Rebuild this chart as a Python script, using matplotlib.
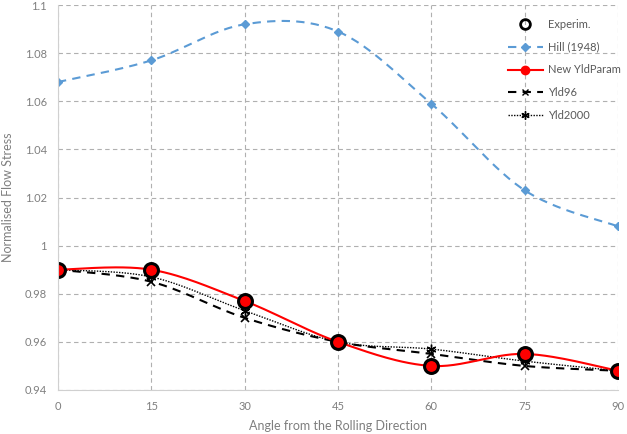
import matplotlib
matplotlib.use("Agg")
import matplotlib.pyplot as plt
import numpy as np

angles = [0, 15, 30, 45, 60, 75, 90]
experim = [0.990, 0.990, 0.977, 0.960, 0.950, 0.955, 0.948]
hill = [1.068, 1.077, 1.092, 1.089, 1.059, 1.023, 1.008]
new_yld = [0.990, 0.990, 0.977, 0.960, 0.950, 0.955, 0.948]
yld96 = [0.990, 0.985, 0.970, 0.960, 0.955, 0.950, 0.948]
yld2000 = [0.990, 0.987, 0.973, 0.960, 0.957, 0.952, 0.948]

GREY = "#7f7f7f"
plt.rcParams["font.family"] = ["Lato", "DejaVu Sans"]


def smooth(x, y, n=30):
    # Excel-style smoothed line: Bezier segments with Catmull-Rom control points
    x = np.asarray(x, float)
    y = np.asarray(y, float)
    px = np.concatenate([[x[0]], x, [x[-1]]])
    py = np.concatenate([[y[0]], y, [y[-1]]])
    xs, ys = [], []
    t = np.linspace(0, 1, n)
    for i in range(1, len(px) - 2):
        p0 = np.array([px[i], py[i]])
        p3 = np.array([px[i + 1], py[i + 1]])
        p1 = p0 + (np.array([px[i + 1], py[i + 1]]) - np.array([px[i - 1], py[i - 1]])) / 6
        p2 = p3 - (np.array([px[i + 2], py[i + 2]]) - np.array([px[i], py[i]])) / 6
        b = ((1 - t) ** 3)[:, None] * p0 + (3 * (1 - t) ** 2 * t)[:, None] * p1 \
            + (3 * (1 - t) * t ** 2)[:, None] * p2 + (t ** 3)[:, None] * p3
        xs.extend(b[:, 0])
        ys.extend(b[:, 1])
    return xs, ys


fig = plt.figure(figsize=(6.27, 4.34), dpi=100)
ax = fig.add_axes([0.0925, 0.1014, 0.893, 0.887])

hx, hy = smooth(angles, hill)
ax.plot(hx, hy, color="#5b9bd5", linestyle=(0, (4, 3)), linewidth=1.5)
ax.plot(angles, hill, linestyle="none", marker="D", markersize=4, color="#5b9bd5")

for vals, ls, lw in [(yld96, (0, (4, 3)), 1.5), (yld2000, (0, (1, 1)), 1.0)]:
    sx, sy = smooth(angles, vals)
    ax.plot(sx, sy, color="black", linestyle=ls, linewidth=lw)
ax.plot(angles, yld96, linestyle="none", marker="x", markersize=6, color="black", mew=1.2)
ax.plot(angles, yld2000, linestyle="none", marker=(6, 2, 0), markersize=7, color="black", mew=1.0)

nx, ny = smooth(angles, new_yld)
ax.plot(nx, ny, color="#ff0000", linewidth=1.5)
ax.plot(angles, new_yld, linestyle="none", marker="o", markersize=8, color="#ff0000")
ax.plot(angles, experim, linestyle="none", marker="o", markersize=10,
        markerfacecolor="none", markeredgecolor="black", mew=2.2)

handles = [
    plt.Line2D([], [], linestyle="none", marker="o", markersize=7, markerfacecolor="none",
               markeredgecolor="black", mew=2),
    plt.Line2D([], [], color="#5b9bd5", linestyle=(0, (4, 3)), marker="D", markersize=4, lw=1.5),
    plt.Line2D([], [], color="#ff0000", marker="o", markersize=6, lw=1.5),
    plt.Line2D([], [], color="black", linestyle=(0, (4, 3)), marker="x", markersize=5, lw=1.5),
    plt.Line2D([], [], color="black", linestyle=(0, (1, 1)), marker=(6, 2, 0), markersize=6, lw=1.0),
]
labels = ["Experim.", "Hill (1948)", "New YldParam", "Yld96", "Yld2000"]
leg = ax.legend(handles, labels, loc="upper left", bbox_to_anchor=(0.795, 0.975), frameon=False,
                fontsize=8, handlelength=3.2, handletextpad=0.4, labelspacing=1.05,
                borderaxespad=0)
for txt in leg.get_texts():
    txt.set_color("#595959")

ax.set_xlim(0, 90)
ax.set_ylim(0.94, 1.1)
ax.set_xticks(angles)
ax.set_yticks(np.arange(0.94, 1.1001, 0.02))
ax.set_yticklabels(["0.94", "0.96", "0.98", "1", "1.02", "1.04", "1.06", "1.08", "1.1"])
ax.grid(True, color="#b0b0b0", linestyle=(0, (4, 3)), linewidth=0.8)
ax.set_axisbelow(True)
for side in ["top", "right"]:
    ax.spines[side].set_visible(False)
for side in ["left", "bottom"]:
    ax.spines[side].set_color("#d0d0d0")
ax.tick_params(length=0, labelsize=8, colors=GREY, pad=8)
ax.set_xlabel("Angle from the Rolling Direction", fontsize=9, color=GREY, labelpad=6)
ax.set_ylabel("Normalised Flow Stress", fontsize=9, color=GREY, labelpad=8)

fig.savefig("out.png", dpi=100)
